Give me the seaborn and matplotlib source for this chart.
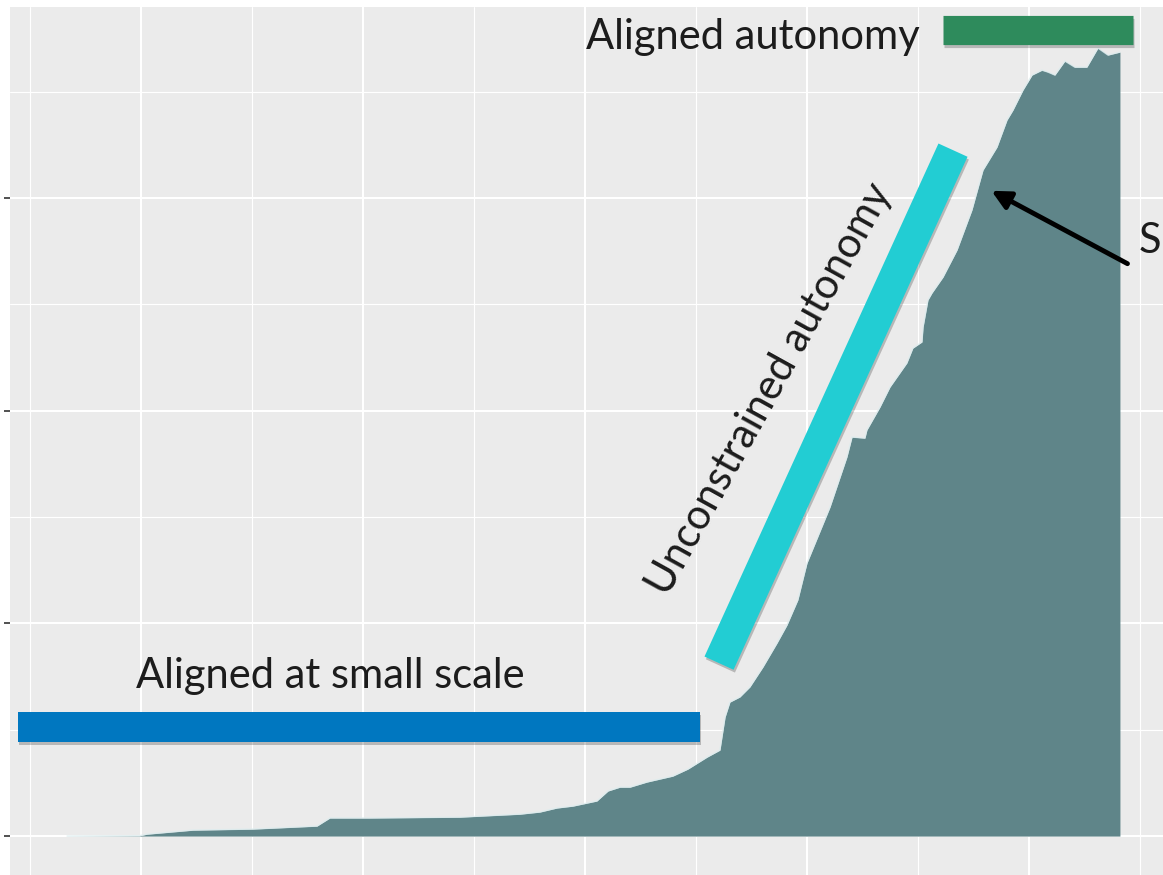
import numpy as np
import pandas as pd
import matplotlib
matplotlib.use("Agg")
import matplotlib.pyplot as plt
import matplotlib.patheffects as pe
import seaborn as sns

# curve (x in years, y in major-grid units)
years = [1956.67, 1959.95, 1960.27, 1962.34, 1965.05, 1967.93, 1968.51, 1970.32,
         1974.37, 1977.07, 1977.97, 1978.74, 1979.46, 1980.54, 1981.04, 1981.58,
         1982.03, 1982.79, 1983.96, 1984.64, 1985.50, 1986.08, 1986.31, 1986.53,
         1986.98, 1987.43, 1988.02, 1988.65, 1989.10, 1989.59, 1990.00, 1991.04,
         1991.80, 1992.03, 1992.61, 1992.70, 1993.29, 1993.74, 1994.50, 1994.77,
         1995.18, 1995.23, 1995.45, 1995.63, 1996.13, 1996.76, 1997.43, 1997.93,
         1998.56, 1999.01, 1999.28, 1999.73, 2000.14, 2000.59, 2000.86, 2001.17,
         2001.62, 2002.07, 2002.61, 2003.11, 2003.56, 2004.10]
level = [0.000, 0.002, 0.009, 0.028, 0.033, 0.047, 0.085, 0.085,
         0.089, 0.103, 0.113, 0.132, 0.141, 0.165, 0.212, 0.230,
         0.230, 0.254, 0.282, 0.315, 0.371, 0.404, 0.559, 0.630,
         0.654, 0.701, 0.795, 0.907, 0.992, 1.110, 1.283, 1.547,
         1.782, 1.876, 1.871, 1.909, 2.017, 2.111, 2.224, 2.294,
         2.323, 2.393, 2.520, 2.553, 2.628, 2.755, 2.943, 3.131,
         3.239, 3.366, 3.413, 3.507, 3.578, 3.601, 3.592, 3.578,
         3.644, 3.615, 3.615, 3.705, 3.672, 3.686]

# phase annotations
phase_names = ["Aligned at small scale", "Unconstrained autonomy", "Aligned autonomy"]
phase_start = [(1954.46, 0.512), (1986.04, 0.813), (1996.13, 3.789)]
phase_end = [(1985.18, 0.512), (1996.58, 3.225), (2004.68, 3.789)]
phase_colors = ["#0077c0", "#22cdd3", "#2e8b5c"]

df = pd.DataFrame({"year": years, "level": level})

sns.set_theme(style="darkgrid")
plt.rcParams["font.family"] = ["Lato", "DejaVu Sans"]

fig = plt.figure(figsize=(11.63, 8.75), dpi=100)
ax = fig.add_axes([10 / 1163, 0, 1153 / 1163, 868 / 875])
ax.set_facecolor("#ebebeb")

ax.fill_between(df["year"], 0, df["level"], color="#5f8589", lw=0, zorder=2)
sns.lineplot(data=df, x="year", y="level", ax=ax, color="#dcecee", lw=1.0,
             alpha=0.8, zorder=2.5)

ax.set_xlim(1954.10, 2006.04)
ax.set_ylim(-0.183, 3.898)
ax.set_xticks([1960, 1970, 1980, 1990, 2000])
ax.set_xticks([1955, 1965, 1975, 1985, 1995, 2005], minor=True)
ax.set_yticks([0, 1, 2, 3])
ax.set_yticks([0.5, 1.5, 2.5, 3.5], minor=True)
ax.grid(which="major", color="white", lw=1.5, zorder=0)
ax.grid(which="minor", color="white", lw=0.8, zorder=0)
ax.set_axisbelow(True)
ax.tick_params(axis="y", which="major", left=True, length=4, width=1.2,
               color="#333333", labelleft=False)
ax.tick_params(axis="y", which="minor", left=False)
ax.tick_params(axis="x", which="both", bottom=False, labelbottom=False)
ax.set_xlabel("")
ax.set_ylabel("")
for s in ax.spines.values():
    s.set_visible(False)

shadow = [pe.SimpleLineShadow(offset=(1.0, -2.0), alpha=0.22, shadow_color="black"),
          pe.Normal()]
widths = [21.6, 23.0, 21.0]
for (x0, y0), (x1, y1), c, w in zip(phase_start, phase_end, phase_colors, widths):
    ax.plot([x0, x1], [y0, y1], color=c, lw=w, solid_capstyle="butt",
            path_effects=shadow, zorder=4)

txt = dict(fontsize=30, color="#1c1c1c", fontweight="normal", zorder=5)
ax.text(1968.51, 0.752, phase_names[0], ha="center", va="center", **txt)
ax.text(1988.33, 2.10, phase_names[1], ha="center", va="center", rotation=61,
        rotation_mode="anchor", **txt)
ax.text(1995.1, 3.757, phase_names[2], ha="right", va="center", **txt)

ax.annotate("", xy=(1998.2, 3.04), xytext=(2004.55, 2.685),
            arrowprops=dict(arrowstyle="-|>", color="black", lw=3.5,
                            mutation_scale=28), zorder=5)
ax.text(2004.95, 2.80, "S", ha="left", va="center", **txt)

fig.savefig("out.png", dpi=100)
